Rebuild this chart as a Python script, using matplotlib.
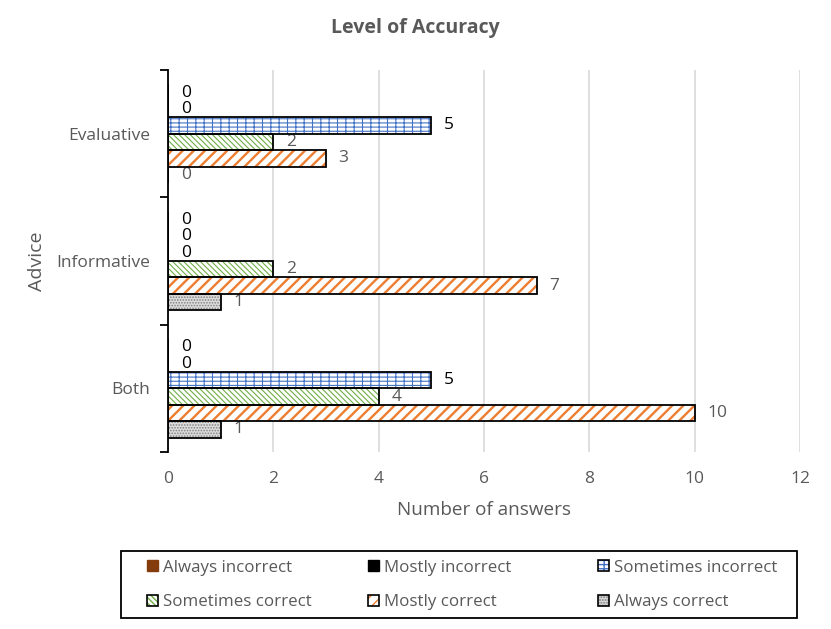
import numpy as np
import matplotlib.pyplot as plt
from matplotlib.patches import Patch, Rectangle

plt.rcParams['font.family'] = ['Open Sans', 'DejaVu Sans']

# dados do grafico
categorias = ['Both', 'Informative', 'Evaluative']
series = ['Always correct', 'Mostly correct', 'Sometimes correct',
          'Sometimes incorrect', 'Mostly incorrect', 'Always incorrect']
valores = {
    'Always correct':      [1, 1, 0],
    'Mostly correct':      [10, 7, 3],
    'Sometimes correct':   [4, 2, 2],
    'Sometimes incorrect': [5, 0, 5],
    'Mostly incorrect':    [0, 0, 0],
    'Always incorrect':    [0, 0, 0],
}
x_ticks = [0, 2, 4, 6, 8, 10, 12]

# estilo de cada serie: (cor do hachurado, fundo, hachura, espessura, cor do rotulo)
estilo = {
    'Always correct':      ('#808080', '#DCDCDC', '......', 0.8, '#595959'),
    'Mostly correct':      ('#ED7D31', 'white', '///', 1.7, '#595959'),
    'Sometimes correct':   ('#70AD47', 'white', '\\\\\\\\\\\\', 0.8, '#595959'),
    'Sometimes incorrect': ('#4472C4', 'white', '--++', 0.8, '#000000'),
    'Mostly incorrect':    ('#000000', '#000000', None, 1.0, '#000000'),
    'Always incorrect':    ('#843C0C', '#843C0C', None, 1.0, '#000000'),
}
cinza = '#595959'

fig = plt.figure(figsize=(8.31, 6.29), dpi=100)
ax = fig.add_axes([168/831, 1-452/629, (800-168)/831, (452-70)/629])

y = np.arange(len(categorias))
h = 0.129
for i, s in enumerate(series):
    cor, fundo, hatch, lw_h, cor_txt = estilo[s]
    pos = y + (i - 2.5) * h
    vals = valores[s]
    if hatch:
        with plt.rc_context({'hatch.linewidth': lw_h}):
            ax.barh(pos, vals, height=h, color=fundo, edgecolor=cor,
                    hatch=hatch, linewidth=0, zorder=2)
        ax.barh(pos, vals, height=h, fill=False, edgecolor='black',
                linewidth=1.3, zorder=3)
    else:
        ax.barh(pos, vals, height=h, color=cor, edgecolor='black',
                linewidth=1.3, zorder=3)
    for p, v in zip(pos, vals):
        ax.text(v + 0.24, p, str(v), va='center', ha='left',
                fontsize=12.5, color=cor_txt)

ax.set_xlim(0, 12)
ax.set_ylim(-0.5, 2.5)
ax.set_xticks(x_ticks)
ax.set_xticklabels([str(t) for t in x_ticks])
ax.set_yticks([-0.5, 0.5, 1.5, 2.5])
ax.set_yticklabels([])
ax.set_yticks(y, minor=True)
ax.set_yticklabels(categorias, minor=True)
ax.tick_params(axis='y', which='major', length=6, width=1.3, color='black')
ax.tick_params(axis='y', which='minor', length=0, pad=13, labelsize=12.5, labelcolor=cinza)
ax.tick_params(axis='x', length=0, pad=14, labelsize=12.5, labelcolor=cinza)

ax.grid(axis='x', color='#D9D9D9', linewidth=1.2, zorder=0)
ax.set_axisbelow(True)
for lado in ['top', 'right', 'bottom']:
    ax.spines[lado].set_visible(False)
ax.spines['left'].set_linewidth(1.3)
ax.spines['left'].set_zorder(4)

ax.set_xlabel('Number of answers', fontsize=13.6, color=cinza, labelpad=10)
ax.set_ylabel('Advice', fontsize=14, color=cinza)
ax.yaxis.set_label_coords(-0.193, 0.5)
fig.text(0.5, 1-28/629, 'Level of Accuracy', ha='center', va='center',
         fontsize=14, fontweight='bold', color=cinza)

# legenda: tres colunas, cada uma com duas linhas
colunas = [['Always incorrect', 'Sometimes correct'],
           ['Mostly incorrect', 'Mostly correct'],
           ['Sometimes incorrect', 'Always correct']]
x_col = [147, 368, 598]
for xc, col in zip(x_col, colunas):
    handles = []
    for s in col:
        cor, fundo, hatch, lw_h, _ = estilo[s]
        if hatch:
            with plt.rc_context({'hatch.linewidth': min(lw_h, 1.0)}):
                miolo = Patch(facecolor=fundo, edgecolor=cor, hatch=hatch, linewidth=0)
            borda = Patch(fill=False, edgecolor='black', linewidth=1.2)
            handles.append((miolo, borda))
        else:
            handles.append(Patch(facecolor=cor, edgecolor=cor))
    leg = fig.legend(handles, col, loc='center left',
                     bbox_to_anchor=(xc/831, 1-585/629), frameon=False,
                     fontsize=12.2, handlelength=0.62, handleheight=0.62,
                     handletextpad=0.3, borderpad=0, borderaxespad=0,
                     labelspacing=1.1)
    for t in leg.get_texts():
        t.set_color(cinza)

fig.add_artist(Rectangle((121/831, 1-618/629), (797-121)/831, (618-551)/629,
                         transform=fig.transFigure, fill=False,
                         edgecolor='black', linewidth=1.3))

fig.savefig('out.png', dpi=100)
